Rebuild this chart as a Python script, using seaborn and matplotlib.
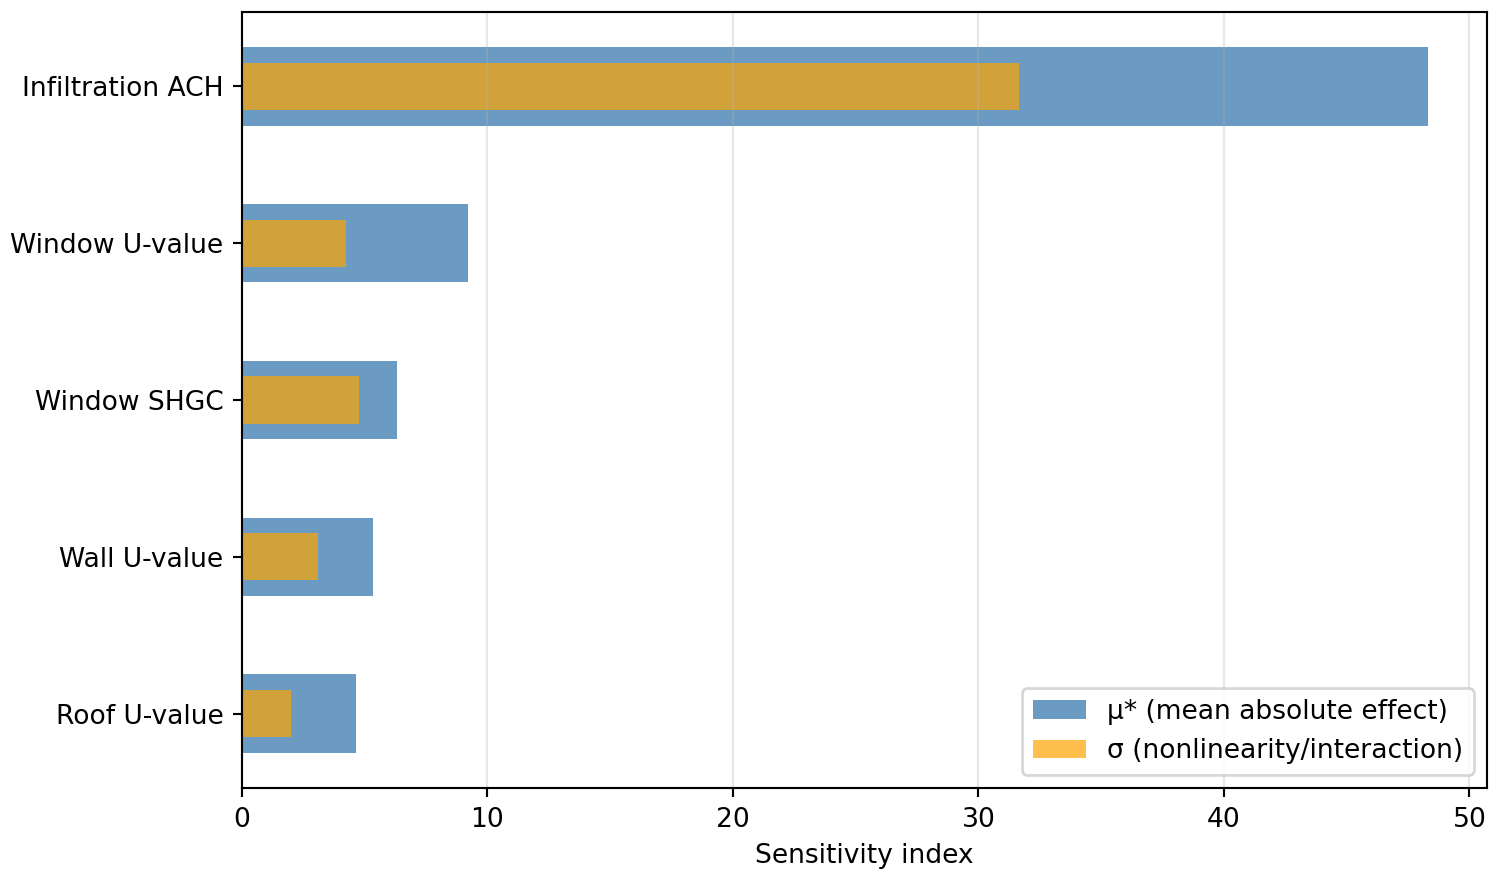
import matplotlib
matplotlib.use("Agg")
import matplotlib.pyplot as plt
import seaborn as sns
import pandas as pd

# sensitivity results (Morris screening)
params = ["Infiltration ACH", "Window U-value", "Window SHGC", "Wall U-value", "Roof U-value"]
mu_star = [48.3, 9.2, 6.3, 5.35, 4.65]
sigma = [31.65, 4.25, 4.75, 3.1, 2.0]

df = pd.DataFrame({"param": params, "mu_star": mu_star, "sigma": sigma})

DPI = 191
fig, ax = plt.subplots(figsize=(1501 / DPI, 881 / DPI), dpi=DPI)
fig.subplots_adjust(left=242 / 1501, right=1487 / 1501, top=1 - 12 / 881, bottom=1 - 788 / 881)

sns.barplot(data=df, x="mu_star", y="param", orient="h", width=0.5,
            color="steelblue", alpha=0.8, saturation=1,
            label="μ* (mean absolute effect)", ax=ax)
sns.barplot(data=df, x="sigma", y="param", orient="h", width=0.3,
            color="orange", alpha=0.7, saturation=1,
            label="σ (nonlinearity/interaction)", ax=ax)

ax.set_ylim(4.475, -0.475)
ax.set_xlim(0, max(mu_star) * 1.05)
ax.set_ylabel("")
ax.set_xlabel("Sensitivity index")
ax.grid(axis="x", alpha=0.3)
ax.legend(loc="lower right")

fig.savefig("out.png", dpi=DPI)
